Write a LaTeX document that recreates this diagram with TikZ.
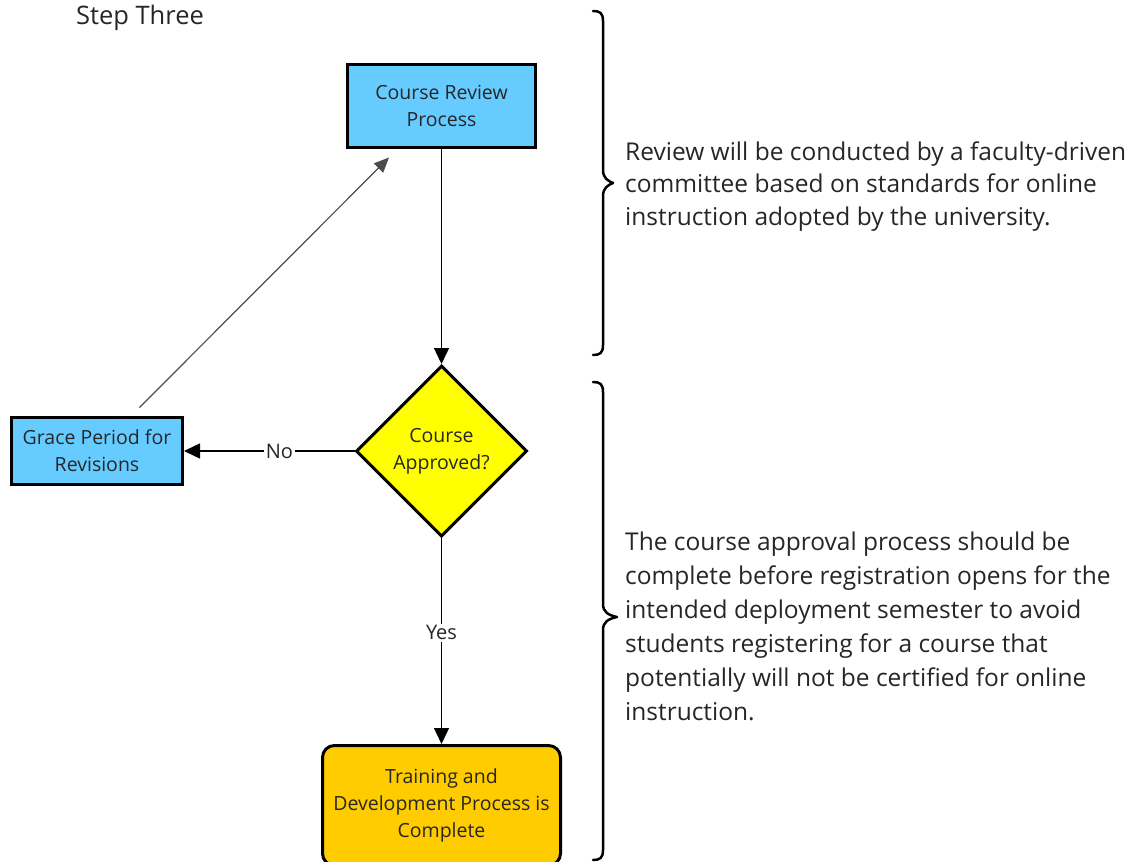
\documentclass[tikz,border=0pt]{standalone}
\usepackage{fontspec}
\setmainfont{Open Sans}
\usetikzlibrary{arrows.meta,shapes.geometric}
\definecolor{boxblue}{HTML}{66CCFF}
\definecolor{boxyellow}{HTML}{FFFF00}
\definecolor{boxgold}{HTML}{FFCC00}
\definecolor{txt}{HTML}{262626}
\begin{document}
\begin{tikzpicture}[x=1pt,y=-1pt,
  procbox/.style={draw=black, line width=3pt, fill=boxblue, align=center, inner sep=0pt,
    text=txt, font=\fontsize{19.5}{27}\selectfont},
  decbox/.style={draw=black, line width=3pt, fill=boxyellow, shape=diamond, aspect=1,
    align=center, inner sep=0pt, minimum width=171pt, minimum height=171pt,
    text=txt, font=\fontsize{19.5}{27}\selectfont},
  endbox/.style={draw=black, line width=3pt, fill=boxgold, rounded corners=12pt, align=center,
    inner sep=0pt, text=txt, font=\fontsize{19.5}{27}\selectfont},
  flowarrow/.style={draw=black, line width=1.4pt, -{Triangle[length=16pt,width=15pt]}},
  diagarrow/.style={draw=black!70, line width=1.2pt, -{Triangle[length=15pt,width=13pt]}},
  flowlabel/.style={fill=white, text=txt, inner sep=2pt, font=\fontsize{20}{24}\selectfont},
  notetext/.style={anchor=west, align=left, inner sep=0pt, text=txt},
  bracepath/.style={draw=black, line width=2.5pt, line join=round, line cap=round}
]
\useasboundingbox (0,0) rectangle (1136,862);

\node[text=txt, font=\fontsize{25.5}{30}\selectfont] (title) at (140,18) {Step Three};

\node[procbox, minimum width=188pt, minimum height=83pt] (review) at (441.5,106) {Course Review\\Process};
\node[decbox] (dia) at (441.5,451) {Course\\Approved?};
\node[procbox, minimum width=171pt, minimum height=67pt] (grace) at (97,451) {Grace Period for\\Revisions};
\node[endbox, minimum width=238pt, minimum height=120pt] (train) at (441.5,805.5) {Training and\\Development Process is\\Complete};

\draw[flowarrow] (review.south) -- (dia.north);
\draw[flowarrow] (dia.west) -- node[flowlabel, pos=0.44] {No} (grace.east);
\draw[flowarrow] (dia.south) -- node[flowlabel, pos=0.46] {Yes} (train.north);
\draw[diagarrow, shorten <=12pt, shorten >=12pt] ([xshift=34pt]grace.north) -- ([xshift=-44pt]review.south);

% braces
\draw[bracepath] (593,11) .. controls (600,11) and (603,13) .. (603,21) -- (603,170)
  .. controls (603,178) and (608,181) .. (613,183)
  .. controls (608,185) and (603,188) .. (603,196) -- (603,345)
  .. controls (603,353) and (600,355) .. (593,355);
\draw[bracepath] (593,382) .. controls (600,382) and (603,384) .. (603,392) -- (603,604)
  .. controls (603,612) and (608,615) .. (617,617)
  .. controls (608,619) and (603,622) .. (603,630) -- (603,850)
  .. controls (603,858) and (600,860) .. (593,860);

\node[notetext, font=\fontsize{24.5}{32.5}\selectfont] (note1) at (625,186.5)
  {Review will be conducted by a faculty-driven\\committee based on standards for online\\instruction adopted by the university.};
\node[notetext, font=\fontsize{24.5}{34}\selectfont] (note2) at (625,626)
  {The course approval process should be\\complete before registration opens for the\\intended deployment semester to avoid\\students registering for a course that\\potentially will not be certified for online\\instruction.};
\end{tikzpicture}
\end{document}
